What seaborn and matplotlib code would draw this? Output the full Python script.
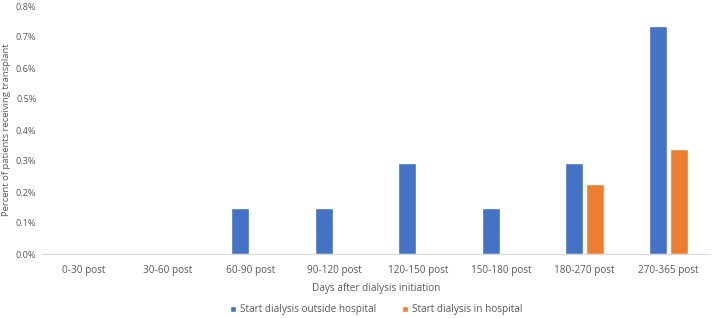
import matplotlib
matplotlib.use("Agg")
import matplotlib.pyplot as plt
import seaborn as sns
import pandas as pd
from matplotlib.ticker import FuncFormatter

categories = ["0-30 post", "30-60 post", "60-90 post", "90-120 post",
              "120-150 post", "150-180 post", "180-270 post", "270-365 post"]
outside = [0.0, 0.0, 0.147, 0.147, 0.294, 0.147, 0.294, 0.735]
inside = [0.0, 0.0, 0.0, 0.0, 0.0, 0.0, 0.225, 0.339]
series = ["Start dialysis outside hospital", "Start dialysis in hospital"]

df = pd.DataFrame({
    "cat": categories * 2,
    "val": outside + inside,
    "series": [series[0]] * len(categories) + [series[1]] * len(categories),
})

sns.set_theme(style="white")
plt.rcParams["font.family"] = ["Open Sans", "DejaVu Sans"]
gray = "#595959"

fig = plt.figure(figsize=(7.14, 3.18), dpi=100)
ax = fig.add_axes([42 / 714, 1 - 254 / 318, 668 / 714, 248 / 318])
sns.barplot(data=df, x="cat", y="val", hue="series", order=categories,
            hue_order=series, palette=["#4472C4", "#ED7D31"], width=0.5,
            gap=0.12, ax=ax, legend=True, saturation=1)

ax.set_ylim(0, 0.8)
ax.set_yticks([i / 10 for i in range(9)])
ax.yaxis.set_major_formatter(FuncFormatter(lambda v, p: f"{v:.1f}%"))
ax.tick_params(axis="both", labelsize=7.2, colors=gray, length=0)
ax.tick_params(axis="y", pad=4, labelsize=6.6)
ax.tick_params(axis="x", pad=8)
for s in ["top", "right", "left"]:
    ax.spines[s].set_visible(False)
ax.spines["bottom"].set_color("#D9D9D9")
ax.spines["bottom"].set_linewidth(0.8)
ax.set_xlabel("Days after dialysis initiation", fontsize=7.2, color=gray, labelpad=5)
ax.set_ylabel("Percent of patients receiving transplant", fontsize=6.8, color=gray)
ax.yaxis.set_label_coords(-0.0525, 0.5)
ax.yaxis.label.set_va("center")
ax.grid(False)

handles, labels = ax.get_legend_handles_labels()
ax.legend(handles, labels, loc="center", bbox_to_anchor=(0.5, -0.225),
          ncol=2, frameon=False, fontsize=7.2, labelcolor=gray,
          handlelength=0.6, handleheight=0.6, handletextpad=0.4, columnspacing=2.6)

fig.savefig("out.png", dpi=100)
